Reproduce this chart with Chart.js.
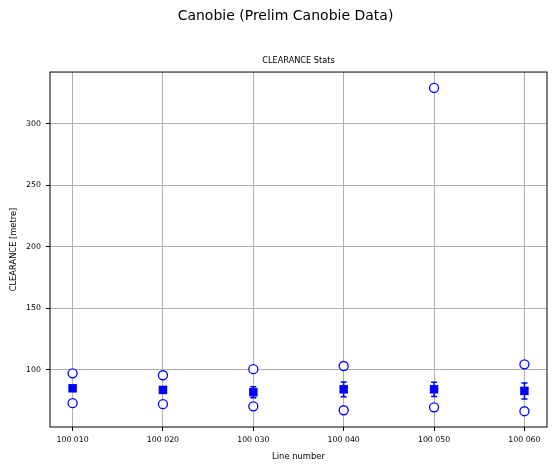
<!DOCTYPE html>
<html>
<head>
<meta charset="utf-8">
<script src="https://cdn.jsdelivr.net/npm/chart.js@4/dist/chart.umd.min.js"></script>
<style>
  html, body { margin: 0; padding: 0; background: #fff; }
  #wrap { width: 556px; height: 470px; }
</style>
</head>
<body>
<div id="wrap"><canvas id="clearanceChart"></canvas></div>
<script>
const lineNumbers = ["100 010", "100 020", "100 030", "100 040", "100 050", "100 060"];
const clearanceMax = [97.3, 95.7, 100.6, 103.2, 328.9, 104.6];
const clearanceMean = [85.1, 83.8, 81.9, 84.3, 84.3, 83.0];
const clearanceStd = [1.8, 1.8, 4.5, 6.0, 5.8, 6.5];
const clearanceMin = [73.0, 72.2, 70.5, 67.3, 69.7, 66.5];
const yTicks = [100, 150, 200, 250, 300];

const font = "'DejaVu Sans', sans-serif";
const blue = "#0000ff";

const toPoints = (arr) => arr.map((v, i) => ({ x: i, y: v }));

// error bars for the mean series + black frame round the plot
const errorBars = {
  id: "errorBars",
  afterDatasetsDraw(chart) {
    const { ctx, scales } = chart;
    ctx.save();
    ctx.strokeStyle = blue;
    ctx.lineWidth = 1.5;
    clearanceMean.forEach((m, i) => {
      const x = scales.x.getPixelForValue(i);
      const yTop = scales.y.getPixelForValue(m + clearanceStd[i]);
      const yBot = scales.y.getPixelForValue(m - clearanceStd[i]);
      ctx.beginPath();
      ctx.moveTo(x, yTop);
      ctx.lineTo(x, yBot);
      ctx.moveTo(x - 3, yTop);
      ctx.lineTo(x + 3, yTop);
      ctx.moveTo(x - 3, yBot);
      ctx.lineTo(x + 3, yBot);
      ctx.stroke();
    });
    const a = chart.chartArea;
    ctx.strokeStyle = "#000";
    ctx.lineWidth = 1;
    ctx.strokeRect(a.left, a.top, a.right - a.left, a.bottom - a.top);
    ctx.restore();
  },
};

const ctx = document.getElementById("clearanceChart").getContext("2d");
new Chart(ctx, {
  type: "scatter",
  data: {
    datasets: [
      {
        label: "max",
        data: toPoints(clearanceMax),
        pointStyle: "circle",
        pointRadius: 4.5,
        pointBorderWidth: 1.3,
        borderColor: blue,
        backgroundColor: "#fff",
      },
      {
        label: "mean",
        data: toPoints(clearanceMean),
        pointStyle: "rect",
        pointRadius: 6,
        pointBorderWidth: 0,
        borderColor: blue,
        backgroundColor: blue,
      },
      {
        label: "min",
        data: toPoints(clearanceMin),
        pointStyle: "circle",
        pointRadius: 4.5,
        pointBorderWidth: 1.3,
        borderColor: blue,
        backgroundColor: "#fff",
      },
    ],
  },
  options: {
    responsive: true,
    maintainAspectRatio: false,
    animation: false,
    layout: { padding: { left: 24, right: 9, top: 0, bottom: 0 } },
    plugins: {
      legend: { display: false },
      tooltip: { enabled: false },
      title: {
        display: true,
        text: "Canobie (Prelim Canobie Data)",
        color: "#000",
        font: { family: font, size: 14, weight: "normal" },
        padding: { top: 7.6, bottom: 31.7 },
      },
      subtitle: {
        display: true,
        fullSize: false,
        text: "CLEARANCE Stats",
        color: "#000",
        font: { family: font, size: 8.2, weight: "normal" },
        padding: { top: 0, bottom: 6.1 },
      },
    },
    scales: {
      x: {
        type: "linear",
        min: -0.25,
        max: 5.25,
        afterFit: (s) => { s.height = 43; },
        afterBuildTicks: (s) => { s.ticks = lineNumbers.map((_, i) => ({ value: i })); },
        ticks: {
          color: "#000",
          font: { family: font, size: 7.8 },
          padding: 4,
          maxRotation: 0,
          autoSkip: false,
          callback: (v) => lineNumbers[v],
        },
        grid: { color: "#b0b0b0", tickColor: "#000", tickLength: 4 },
        border: { display: false },
        title: {
          display: true,
          text: "Line number",
          color: "#000",
          font: { family: font, size: 8.4 },
          padding: { top: 0, bottom: 8.2 },
        },
      },
      y: {
        min: 53.7,
        max: 341.8,
        afterFit: (s) => { s.width = 26; },
        afterBuildTicks: (s) => { s.ticks = yTicks.map((v) => ({ value: v })); },
        ticks: {
          color: "#000",
          font: { family: font, size: 7.8 },
          padding: 5,
        },
        grid: { color: "#b0b0b0", tickColor: "#000", tickLength: 4 },
        border: { display: false },
        title: {
          display: true,
          text: "CLEARANCE [metre]",
          color: "#000",
          font: { family: font, size: 8.3 },
          padding: { top: -15.5, bottom: 0 },
        },
      },
    },
  },
  plugins: [errorBars],
});
</script>
</body>
</html>
